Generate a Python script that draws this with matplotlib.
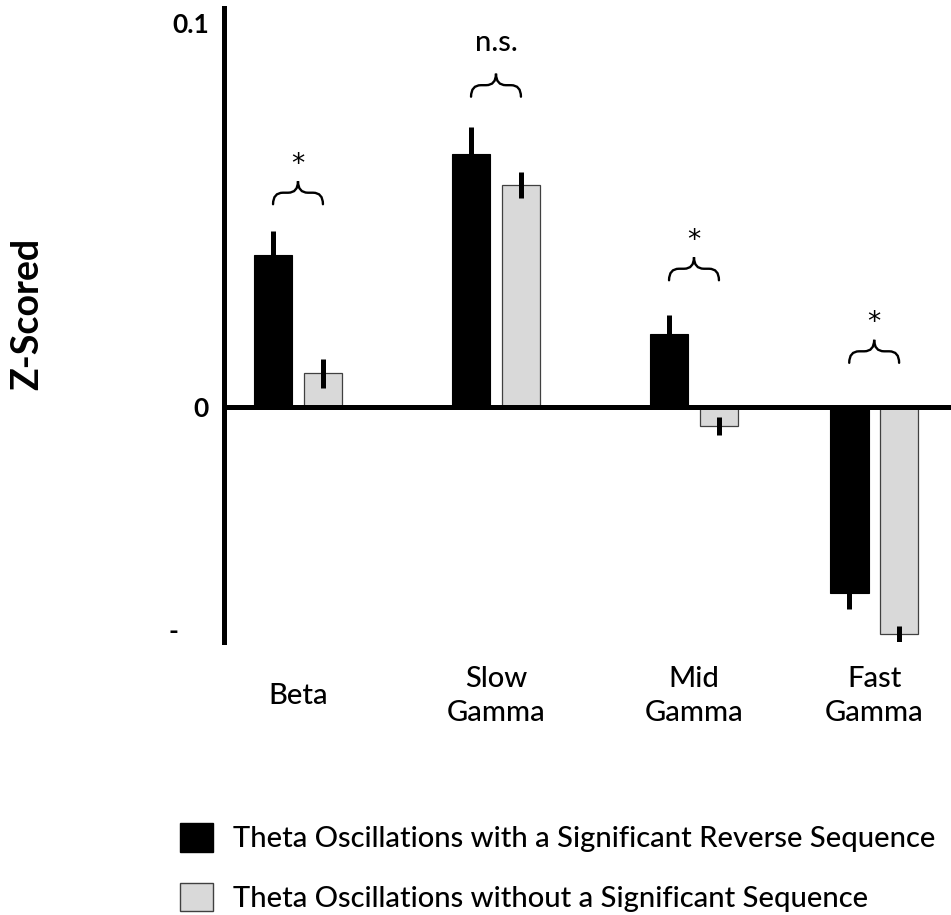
import matplotlib
matplotlib.use('Agg')
import matplotlib.pyplot as plt
import numpy as np
from matplotlib.path import Path
from matplotlib.patches import PathPatch, Patch
from matplotlib.transforms import ScaledTranslation

plt.rcParams['font.family'] = ['Lato', 'DejaVu Sans']
plt.rcParams['font.weight'] = 'medium'

groups = ['Beta', 'Slow\nGamma', 'Mid\nGamma', 'Fast\nGamma']
reverse_mean = [0.0395, 0.0657, 0.0189, -0.0485]
reverse_err = [0.0061, 0.0071, 0.0049, 0.0041]
noseq_mean = [0.0087, 0.0577, -0.0051, -0.0592]
noseq_err = [0.0038, 0.0033, 0.0024, 0.0021]
sig_labels = ['*', 'n.s.', '*', '*']
brace_base = [0.0527, 0.0807, 0.0329, 0.0114]
series_labels = ['Theta Oscillations with a Significant Reverse Sequence',
                 'Theta Oscillations without a Significant Sequence']

BLACK = 'black'
GREY = '#d9d9d9'
EDGE = '#404040'

group_x = np.array([0.0, 1.0, 2.0, 2.91])
width = 0.194
offset = 0.125

fig = plt.figure(figsize=(9.51, 9.15), dpi=100)
ax = fig.add_axes([224 / 951, 1 - 642 / 915, 727 / 951, 634 / 915])

ax.bar(group_x - offset, reverse_mean, width, color=BLACK, edgecolor=BLACK,
       linewidth=0.8, zorder=2)
ax.bar(group_x + offset, noseq_mean, width, color=GREY, edgecolor=EDGE,
       linewidth=0.9, zorder=2)
ax.errorbar(group_x - offset, reverse_mean, yerr=reverse_err, fmt='none',
            ecolor='black', elinewidth=3.6, capsize=0, zorder=3)
ax.errorbar(group_x + offset, noseq_mean, yerr=noseq_err, fmt='none',
            ecolor='black', elinewidth=3.6, capsize=0, zorder=3)
ax.axhline(0, color='black', lw=3.6, zorder=4)


def brace(x, y0, half_w=0.126, a=0.05, hm=0.003, h=0.006):
    ym, yt = y0 + hm, y0 + h
    xl, xr = x - half_w, x + half_w
    verts = [(xl, y0), (xl, ym), (xl + a, ym), (x - a, ym), (x, ym), (x, yt),
             (x, ym), (x + a, ym), (xr - a, ym), (xr, ym), (xr, y0)]
    codes = [Path.MOVETO, Path.CURVE3, Path.CURVE3, Path.LINETO,
             Path.CURVE3, Path.CURVE3, Path.CURVE3, Path.CURVE3,
             Path.LINETO, Path.CURVE3, Path.CURVE3]
    ax.add_patch(PathPatch(Path(verts, codes), fill=False, lw=1.7,
                           edgecolor='black', capstyle='round', zorder=5))
    return yt


for x, base, lab in zip(group_x, brace_base, sig_labels):
    top = brace(x, base)
    if lab == '*':
        ax.annotate(lab, xy=(x, top), xytext=(0, 12), textcoords='offset points',
                    ha='center', va='center', fontsize=19, family='DejaVu Sans')
    else:
        ax.annotate(lab, xy=(x, top), xytext=(0, 16.5), textcoords='offset points',
                    ha='center', va='baseline', fontsize=21)

ax.set_xlim(-0.3737, 3.298)
ax.set_ylim(-0.0613, 0.1038)

for side in ['top', 'right', 'bottom']:
    ax.spines[side].set_visible(False)
ax.spines['left'].set_linewidth(3.6)

ax.set_xticks(group_x)
ax.set_xticklabels(groups, fontsize=21, linespacing=1.4)
ax.tick_params(axis='x', length=0, pad=39)
for lbl in ax.get_xticklabels():
    lbl.set_va('center')

ax.set_yticks([-0.0581, 0, 0.1])
ax.set_yticklabels(['-', '0', '0.1'], fontsize=19, fontweight='bold')
ax.tick_params(axis='y', length=0, pad=11)
dash = ax.get_yticklabels()[0]
dash.set_transform(dash.get_transform() + ScaledTranslation(-0.3, 0, fig.dpi_scale_trans))

ax.set_ylabel('Z-Scored', fontsize=27, fontweight='bold', va='center')
ax.yaxis.set_label_coords(-0.271, 0.517)

handles = [Patch(facecolor=BLACK, edgecolor=BLACK),
           Patch(facecolor=GREY, edgecolor=EDGE)]
fig.legend(handles, series_labels, loc='upper left',
           bbox_to_anchor=(180 / 951, 1 - 823 / 915), frameon=False,
           fontsize=21, handlelength=1.13, handleheight=1.13,
           handletextpad=0.68, labelspacing=1.05, borderpad=0,
           borderaxespad=0)

fig.savefig('out.png', dpi=100)
